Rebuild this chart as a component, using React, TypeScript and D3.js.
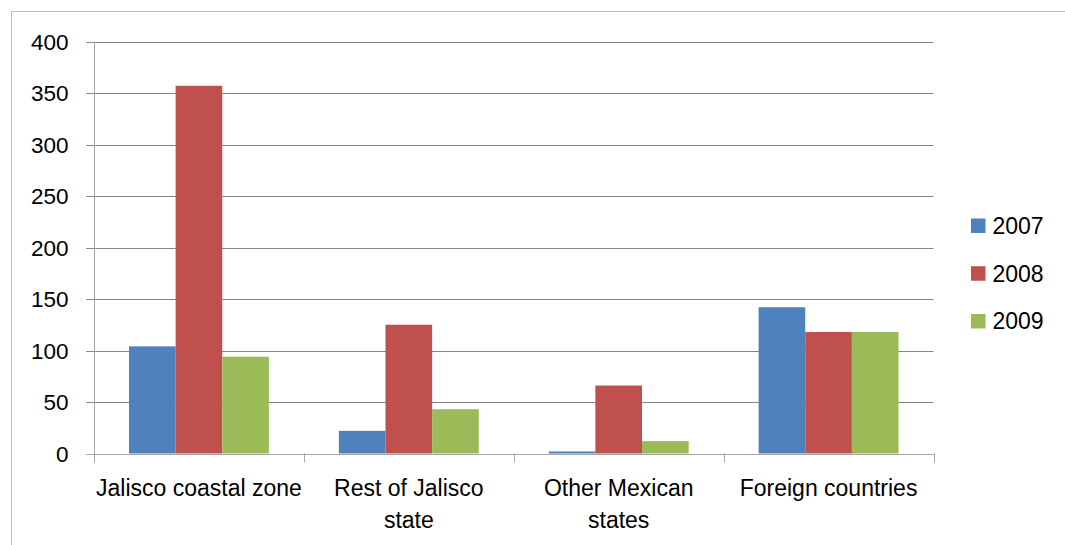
import React from "react";
import * as d3 from "d3";

const categories = ["Jalisco coastal zone", "Rest of Jalisco state", "Other Mexican states", "Foreign countries"];
const categoryLines = [["Jalisco coastal zone"], ["Rest of Jalisco", "state"], ["Other Mexican", "states"], ["Foreign countries"]];
const seriesNames = ["2007", "2008", "2009"];
const values2007 = [104, 22, 2, 142];
const values2008 = [357, 125, 66, 118];
const values2009 = [94, 43, 12, 118];
const yTicks = [0, 50, 100, 150, 200, 250, 300, 350, 400];
const colors = ["#4F81BD", "#C0504D", "#9BBB59"];

const seriesValues = [values2007, values2008, values2009];

export default function App() {
  const W = 1065, H = 545;
  const left = 94, right = 933.5, top = 41.5, bottom = 453.5;
  const font = "'Liberation Sans', Arial, sans-serif";

  const x = d3.scaleBand<string>().domain(categories).range([left, right]).paddingInner(0).paddingOuter(0);
  const xi = d3.scaleBand<string>().domain(seriesNames).range([0, x.bandwidth()]).paddingInner(0).paddingOuter(0.75);
  const y = d3.scaleLinear().domain([0, 400]).range([bottom, top]);

  const boundaries = categories.map((c) => x(c) as number).concat([right]);

  return (
    <svg width={W} height={H} style={{ position: "absolute", left: 0, top: 0, background: "#fff" }} fontFamily={font}>
      <rect x={11.5} y={11.5} width={1200} height={700} fill="#fff" stroke="#BDBDBD" strokeWidth={1} />
      {/* gridlines */}
      {yTicks.map((t) => (
        <line key={"g" + t} x1={86} x2={right} y1={Math.round(y(t)) + 0.5} y2={Math.round(y(t)) + 0.5} stroke="#868686" strokeWidth={1} />
      ))}
      {/* y axis */}
      <line x1={left + 0.5} x2={left + 0.5} y1={top} y2={bottom} stroke="#A6A6A6" strokeWidth={1} />
      {/* x ticks */}
      {boundaries.map((b, i) => (
        <line key={"xt" + i} x1={Math.round(b) + 0.5} x2={Math.round(b) + 0.5} y1={bottom} y2={bottom + 9} stroke="#A6A6A6" strokeWidth={1} />
      ))}
      {/* bars */}
      {categories.map((c, ci) => (
        <g key={c}>
          {seriesNames.map((s, si) => {
            const v = seriesValues[si][ci];
            const bx = (x(c) as number) + (xi(s) as number);
            return (
              <rect key={s} x={bx} y={y(v)} width={xi.bandwidth()} height={bottom - y(v)} fill={colors[si]} />
            );
          })}
        </g>
      ))}
      {/* x axis line */}
      <line x1={86} x2={right} y1={Math.round(bottom) + 0.5} y2={Math.round(bottom) + 0.5} stroke="#A6A6A6" strokeWidth={1} />
      {/* y tick labels */}
      {yTicks.map((t) => (
        <text key={"yl" + t} x={68.5} y={y(t)} dy="0.36em" textAnchor="end" fontSize={22.5} fill="#000">{t}</text>
      ))}
      {/* x labels */}
      {categories.map((c, ci) => (
        <text key={"xl" + c} x={(x(c) as number) + x.bandwidth() / 2} y={496} textAnchor="middle" fontSize={23} fill="#000">
          {categoryLines[ci].map((ln, li) => (
            <tspan key={li} x={(x(c) as number) + x.bandwidth() / 2} dy={li === 0 ? 0 : 32}>{ln}</tspan>
          ))}
        </text>
      ))}
      {/* legend */}
      {seriesNames.map((s, si) => {
        const cy = 225.5 + si * 47.75;
        return (
          <g key={"lg" + s}>
            <rect x={971} y={cy - 7} width={14.5} height={14.5} fill={colors[si]} />
            <text x={992.5} y={cy} dy="0.36em" fontSize={23} fill="#000">{s}</text>
          </g>
        );
      })}
    </svg>
  );
}
